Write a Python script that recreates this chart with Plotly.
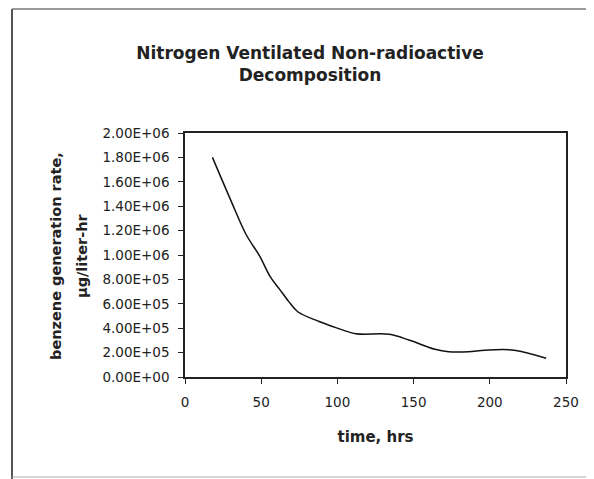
import plotly.graph_objects as go

time_hrs = [18, 30, 40, 49, 56, 62, 68, 74, 88, 99, 112, 134, 147, 164, 173, 186, 197, 216, 237]
benzene_rate = [1.80e6, 1.45e6, 1.17e6, 9.9e5, 8.2e5, 7.2e5, 6.2e5, 5.35e5, 4.55e5, 4.05e5, 3.55e5, 3.5e5, 3.03e5, 2.27e5, 2.07e5, 2.07e5, 2.2e5, 2.2e5, 1.53e5]

y_tick_vals = [0, 2e5, 4e5, 6e5, 8e5, 1e6, 1.2e6, 1.4e6, 1.6e6, 1.8e6, 2e6]
y_tick_text = ["0.00E+00", "2.00E+05", "4.00E+05", "6.00E+05", "8.00E+05", "1.00E+06",
               "1.20E+06", "1.40E+06", "1.60E+06", "1.80E+06", "2.00E+06"]
x_tick_vals = [0, 50, 100, 150, 200, 250]

title_text = "Nitrogen Ventilated Non-radioactive<br>Decomposition"
y_title_lines = ["benzene generation rate,", "µg/liter-hr"]
x_title_text = "time, hrs"

FONT = "DejaVu Sans, Arial, sans-serif"
INK = "#222222"

# page has an 8px body margin; work in page pixel coords and convert
OFF = 8
W, H = 594 - OFF, 479 - OFF
PL, PR, PT, PB = 185, 566, 133, 377  # plot area in page px
L, R, T, B = PL - OFF, W - (PR - OFF), PT - OFF, H - (PB - OFF)
pw, ph = W - L - R, H - T - B

def px(xp):
    return (xp - OFF - L) / pw

def py(yp):
    return (H - B - (yp - OFF)) / ph

fig = go.Figure()
fig.add_trace(go.Scatter(
    x=time_hrs, y=benzene_rate, mode="lines",
    line=dict(color="#111111", width=1.5, shape="spline", smoothing=1.0),
    showlegend=False,
))

annotations = [
    dict(text="<b>%s</b>" % y_title_lines[0], xref="paper", yref="paper",
         x=px(56), y=py(256), xanchor="center", yanchor="middle",
         textangle=-90, showarrow=False,
         font=dict(family=FONT, size=14.5, color=INK)),
    dict(text="<b>%s</b>" % y_title_lines[1], xref="paper", yref="paper",
         x=px(82), y=py(256), xanchor="center", yanchor="middle",
         textangle=-90, showarrow=False,
         font=dict(family=FONT, size=14.5, color=INK)),
]

fig.update_layout(
    width=W, height=H,
    margin=dict(l=L, r=R, t=T, b=B),
    paper_bgcolor="white", plot_bgcolor="white",
    font=dict(family=FONT, size=13, color=INK),
    title=dict(
        text="<b>%s</b>" % title_text,
        x=px(310), xanchor="center", xref="paper",
        y=1 - (59 - OFF) / H, yanchor="middle",
        font=dict(family=FONT, size=17, color=INK),
    ),
    xaxis=dict(
        range=[0, 250], tickvals=x_tick_vals,
        showgrid=False, zeroline=False,
        showline=True, linecolor=INK, linewidth=1.5, mirror=True,
        ticks="outside", ticklen=5, tickcolor=INK, tickwidth=1.2,
        ticklabelstandoff=7,
        tickfont=dict(family=FONT, size=13.5, color=INK),
        title=dict(text="<b>%s</b>" % x_title_text, standoff=23,
                   font=dict(family=FONT, size=15, color=INK)),
    ),
    yaxis=dict(
        range=[0, 2e6], tickvals=y_tick_vals, ticktext=y_tick_text,
        showgrid=False, zeroline=False,
        showline=True, linecolor=INK, linewidth=1.5, mirror=True,
        ticks="outside", ticklen=5, tickcolor=INK, tickwidth=1.2,
        ticklabelstandoff=6,
        tickfont=dict(family=FONT, size=13.5, color=INK),
    ),
    annotations=annotations,
    shapes=[
        dict(type="line", xref="paper", yref="paper",
             x0=px(12), x1=px(12), y0=py(9), y1=py(479),
             line=dict(color="#555555", width=2)),
        dict(type="line", xref="paper", yref="paper",
             x0=px(12), x1=px(600), y0=py(9), y1=py(9),
             line=dict(color="#777777", width=1.5)),
        dict(type="line", xref="paper", yref="paper",
             x0=px(12), x1=px(600), y0=py(477), y1=py(477),
             line=dict(color="#aaaaaa", width=1)),
    ],
)

fig.write_html("out.html")
